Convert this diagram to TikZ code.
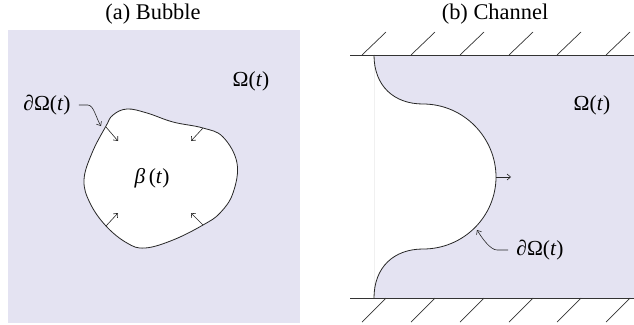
\documentclass[tikz,border=0pt]{standalone}
\usepackage{fontspec}
\setmainfont{Liberation Serif}
\usetikzlibrary{arrows.meta}
\definecolor{lav}{RGB}{228,227,242}
\begin{document}
\begin{tikzpicture}[x=1bp,y=-1bp,
  lbl/.style={inner sep=0pt,font=\fontsize{21.5}{25}\selectfont},
  ttl/.style={inner sep=0pt,font=\fontsize{22.5}{26}\selectfont},
  curveline/.style={line width=0.8bp,black!85},
  normarrow/.style={line width=0.6bp,black!85,-{Straight Barb[length=3.5bp,width=6bp]}},
  wall/.style={line width=0.8bp,black!80},
  hatch/.style={line width=0.7bp,black!80}]
\useasboundingbox (0,0) rectangle (634,324);
% ---------- (a) Bubble ----------
\node[ttl] (ta) at (153,14) {(a) Bubble};
\fill[lav] (8,30) rectangle (300,323);
\fill[white,draw=black!85,line width=0.8bp] plot[smooth cycle,tension=0.65] coordinates {
 (106,126) (113,115) (127,109) (147,113) (173,122) (203,128) (223,137) (237,163)
 (233,193) (220,213) (203,225) (173,240) (145,248) (127,243) (106,226) (90,203)
 (84,180) (92,153)};
\coordinate (p1) at (106,127); \coordinate (q1) at (118,141);
\coordinate (p2) at (203,128); \coordinate (q2) at (191,141);
\coordinate (p3) at (106,226); \coordinate (q3) at (118,213);
\coordinate (p4) at (203,225); \coordinate (q4) at (191,213);
\draw[normarrow] (p1) -- (q1);
\draw[normarrow] (p2) -- (q2);
\draw[normarrow] (p3) -- (q3);
\draw[normarrow] (p4) -- (q4);
\node[lbl] (Oa) at (251,81) {Ω(\textit{t})};
\node[lbl] (dOa) at (47,105) {∂Ω(\textit{t})};
\node[lbl] (beta) at (152,178) {\textit{β}\,(\textit{t})};
\coordinate (ca) at (101,126);
\draw[normarrow] ([xshift=8bp]dOa.east) -- ++(9,0) .. controls +(6,0) and +(-5,-8) .. (ca);
% ---------- (b) Channel ----------
\node[ttl] (tb) at (495,14) {(b) Channel};
\fill[lav] (374,55) rectangle (634,298);
\fill[white] (374,55) .. controls (374,86) and (394,104) .. (423,104)
  .. controls (464,104) and (496,138) .. (496,177)
  .. controls (496,216) and (464,249) .. (423,249)
  .. controls (394,249) and (374,267) .. (374,298) -- cycle;
\draw[black!6,line width=0.5bp] (374,55) -- (374,298);
\draw[curveline] (374,55) .. controls (374,86) and (394,104) .. (423,104)
  .. controls (464,104) and (496,138) .. (496,177)
  .. controls (496,216) and (464,249) .. (423,249)
  .. controls (394,249) and (374,267) .. (374,298);
\coordinate (tipb) at (496,177); \coordinate (tipb2) at (511,177);
\draw[normarrow] (tipb) -- (tipb2);
\draw[wall] (350,55) -- (634,55);
\draw[wall] (350,298) -- (634,298);
\foreach \x in {362,411,460,509,557,606} {
  \draw[hatch] (\x,55) -- ++(24,-23);
  \draw[hatch] (\x,322) -- ++(24,-24);
}
\node[lbl] (Ob) at (592,105) {Ω(\textit{t})};
\node[lbl] (dOb) at (540,250) {∂Ω(\textit{t})};
\coordinate (cb) at (477,230);
\draw[normarrow] ([xshift=-8bp]dOb.west) -- ++(-11,0) .. controls +(-7,0) and +(5,8) .. (cb);
\end{tikzpicture}
\end{document}
